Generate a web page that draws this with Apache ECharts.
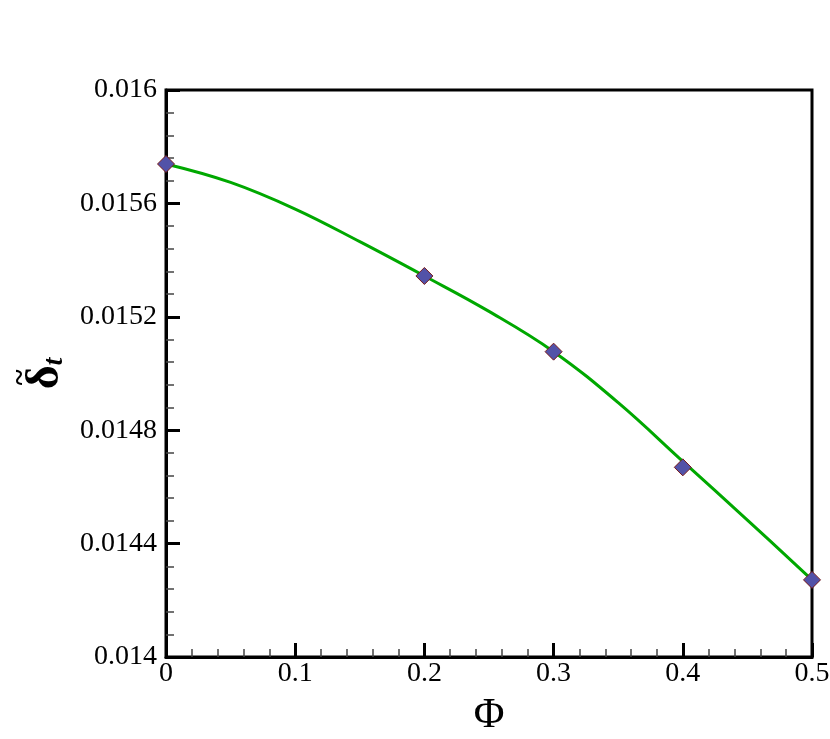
<!DOCTYPE html>
<html>
<head>
<meta charset="utf-8">
<script src="https://cdn.jsdelivr.net/npm/echarts@6/dist/echarts.min.js"></script>
<style>
html,body{margin:0;padding:0;background:#fff;}
#chart{width:830px;height:739px;}
</style>
</head>
<body>
<div id="chart"></div>
<script>
// Data points (markers)
const phiPoints = [0, 0.2, 0.3, 0.4, 0.5];
const deltaPoints = [0.015739, 0.015344, 0.015077, 0.014669, 0.014272];
// Fitted curve
const curvePhi = [0, 0.05, 0.1, 0.15, 0.2, 0.25, 0.3, 0.35, 0.4, 0.45, 0.5];
const curveDelta = [0.015739, 0.015674, 0.015580, 0.015465, 0.015344, 0.015219, 0.015077, 0.014897, 0.014690, 0.014483, 0.014272];
// Tick labels
const xTickLabels = ['0', '0.1', '0.2', '0.3', '0.4', '0.5'];
const yTickLabels = ['0.014', '0.0144', '0.0148', '0.0152', '0.0156', '0.016'];

const FONT = 'Liberation Serif';
const chart = echarts.init(document.getElementById('chart'), null, {renderer: 'canvas'});

function labelFrom(arr, min, step) {
  return function (v) {
    const i = Math.round((v - min) / step);
    return arr[i] !== undefined ? arr[i] : '';
  };
}

chart.setOption({
  animation: false,
  backgroundColor: '#fff',
  grid: {
    left: 166, right: 18, top: 90, bottom: 82,
    containLabel: false, outerBoundsMode: 'none',
    show: true, borderColor: '#000', borderWidth: 3
  },
  xAxis: {
    type: 'value', min: 0, max: 0.5, interval: 0.1,
    name: 'Φ', nameLocation: 'middle', nameGap: 38,
    nameTextStyle: {fontFamily: FONT, fontSize: 42, color: '#000'},
    axisLine: {show: true, onZero: false, lineStyle: {color: '#000', width: 3}},
    axisTick: {show: true, inside: true, length: 14, lineStyle: {color: '#000', width: 3}},
    minorTick: {show: true, splitNumber: 5, length: 8, lineStyle: {color: '#444', width: 1.5}},
    splitLine: {show: false},
    axisLabel: {
      fontFamily: FONT, fontSize: 28, color: '#000', margin: 3,
      formatter: labelFrom(xTickLabels, 0, 0.1)
    }
  },
  yAxis: {
    type: 'value', min: 0.014, max: 0.016, interval: 0.0004,
    name: '{w|~}\n{d|δ}{s|t}', nameLocation: 'middle', nameGap: 96, nameRotate: 90,
    nameTextStyle: {
      color: '#000',
      rich: {
        w: {fontFamily: FONT, fontSize: 30, fontWeight: 'bold', color: '#000', lineHeight: 4, padding: [0, 8, 0, 0]},
        d: {fontFamily: FONT, fontSize: 46, fontWeight: 'bold', color: '#000', lineHeight: 46, verticalAlign: 'top'},
        s: {fontFamily: FONT, fontSize: 28, fontStyle: 'italic', fontWeight: 'bold', color: '#000', lineHeight: 28, verticalAlign: 'bottom', padding: [30, 0, 0, 0]}
      }
    },
    axisLine: {show: true, onZero: false, lineStyle: {color: '#000', width: 3}},
    axisTick: {show: true, inside: true, length: 14, lineStyle: {color: '#000', width: 3}},
    minorTick: {show: true, splitNumber: 5, length: 8, lineStyle: {color: '#444', width: 1.5}},
    splitLine: {show: false},
    axisLabel: {
      fontFamily: FONT, fontSize: 28, color: '#000', margin: 9,
      formatter: labelFrom(yTickLabels, 0.014, 0.0004)
    }
  },
  series: [
    {
      type: 'line',
      data: curvePhi.map((x, i) => [x, curveDelta[i]]),
      smooth: 0.4,
      showSymbol: false,
      symbol: 'none',
      lineStyle: {color: '#00a800', width: 3},
      z: 2
    },
    {
      type: 'scatter',
      data: phiPoints.map((x, i) => [x, deltaPoints[i]]),
      symbol: 'diamond',
      symbolSize: [17, 17],
      clip: false,
      itemStyle: {color: '#5252a8', borderColor: '#7a1a1a', borderWidth: 1, opacity: 1},
      z: 3
    }
  ]
});
</script>
</body>
</html>
